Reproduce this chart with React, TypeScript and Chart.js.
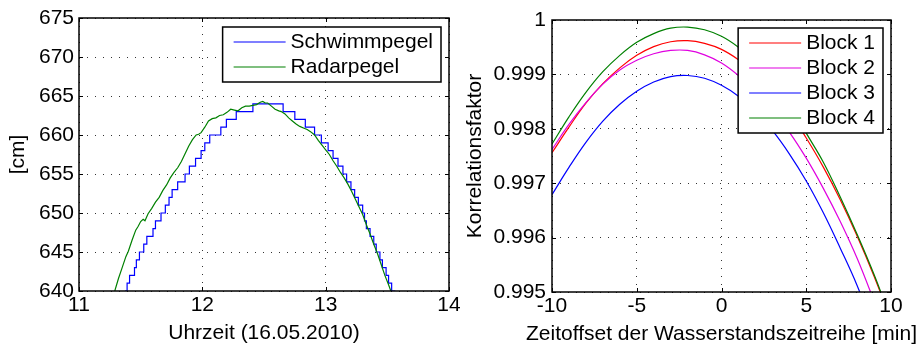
import React, { useEffect, useRef } from 'react';
import { Chart, registerables } from 'chart.js';

Chart.register(...registerables);

const FONT = '"Liberation Sans", Arial, Helvetica, sans-serif';

// ---------- left chart: water level ----------
const leftXTicks = [11, 12, 13, 14];
const leftYTicks = [640, 645, 650, 655, 660, 665, 670, 675];
const leftXTitle = 'Uhrzeit (16.05.2010)';
const leftYTitle = '[cm]';
const leftSeriesNames = ['Schwimmpegel', 'Radarpegel'];

const hoursBlue = [11.30, 11.378, 11.39, 11.41, 11.45, 11.465, 11.49, 11.525, 11.55, 11.60, 11.62, 11.665, 11.70, 11.73, 11.755, 11.80, 11.86, 11.895, 11.945, 11.99, 12.02, 12.06, 12.15, 12.195, 12.275, 12.41, 12.655, 12.75, 12.835, 12.91, 12.965, 13.02, 13.06, 13.10, 13.14, 13.17, 13.205, 13.235, 13.265, 13.30, 13.315, 13.33, 13.36, 13.39, 13.41, 13.44, 13.46, 13.49, 13.51, 13.535, 13.56];
const levelBlue = [638, 640, 641, 642, 643, 644, 645, 646, 647, 648, 649, 650, 651, 652, 653, 654, 655, 656, 657, 658, 659, 660, 661, 662, 663, 664, 663, 662, 661, 660, 659, 658, 657, 656, 655, 654, 653, 652, 651, 650, 649, 648, 647, 646, 645, 644, 643, 642, 641, 640, 639];

const hoursGreen = [11.27, 11.29, 11.32, 11.35, 11.38, 11.40, 11.43, 11.46, 11.48, 11.50, 11.52, 11.535, 11.56, 11.59, 11.62, 11.65, 11.68, 11.71, 11.74, 11.77, 11.80, 11.83, 11.86, 11.89, 11.92, 11.95, 11.97, 11.99, 12.02, 12.05, 12.08, 12.11, 12.14, 12.17, 12.20, 12.23, 12.26, 12.29, 12.32, 12.35, 12.38, 12.41, 12.44, 12.47, 12.49, 12.51, 12.53, 12.56, 12.59, 12.62, 12.64, 12.67, 12.70, 12.73, 12.76, 12.79, 12.82, 12.85, 12.88, 12.91, 12.94, 12.97, 13.00, 13.03, 13.06, 13.09, 13.12, 13.15, 13.18, 13.21, 13.24, 13.27, 13.30, 13.33, 13.36, 13.39, 13.42, 13.45, 13.48, 13.51, 13.54];
const levelGreen = [639.3, 640.0, 641.6, 643.0, 644.4, 645.1, 646.5, 647.8, 648.3, 648.9, 649.2, 649.0, 649.9, 650.6, 651.4, 652.0, 652.9, 653.6, 654.5, 655.2, 655.8, 656.6, 657.6, 658.6, 659.4, 660.0, 660.1, 660.3, 661.0, 661.8, 662.1, 662.2, 662.5, 662.6, 662.9, 663.3, 663.2, 663.1, 663.5, 663.7, 663.7, 663.8, 663.9, 664.2, 664.3, 664.1, 664.1, 663.7, 663.3, 663.1, 663.0, 662.7, 662.2, 661.8, 661.4, 661.1, 660.9, 660.7, 660.4, 660.0, 659.3, 658.7, 658.1, 657.5, 656.7, 656.0, 655.2, 654.5, 653.7, 652.8, 651.8, 650.8, 649.8, 648.5, 647.3, 646.0, 644.8, 643.4, 642.0, 640.8, 639.5];

// ---------- right chart: correlation ----------
const rightXTicks = [-10, -5, 0, 5, 10];
const rightYTicks = [0.995, 0.996, 0.997, 0.998, 0.999, 1];
const rightYTickLabels = ['0.995', '0.996', '0.997', '0.998', '0.999', '1'];
const rightXTitle = 'Zeitoffset der Wasserstandszeitreihe [min]';
const rightYTitle = 'Korrelationsfaktor';
const blockNames = ['Block 1', 'Block 2', 'Block 3', 'Block 4'];

const offsets = [-10, -9, -8, -7, -6, -5, -4, -3, -2, -1, 0, 1, 2, 3, 4, 5, 6, 7, 8, 9, 10];
const block1 = [0.99756, 0.99803, 0.99847, 0.99883, 0.99912, 0.99935, 0.99951, 0.99960, 0.99962, 0.99957, 0.99946, 0.99927, 0.99902, 0.99870, 0.99831, 0.99783, 0.99730, 0.99670, 0.99603, 0.99529, 0.99448];
const block2 = [0.99762, 0.99808, 0.99848, 0.99882, 0.99908, 0.99926, 0.99938, 0.99944, 0.99944, 0.99936, 0.99921, 0.99898, 0.99869, 0.99834, 0.99794, 0.99746, 0.99691, 0.99630, 0.99562, 0.99483, 0.99400];
const block3 = [0.99679, 0.99729, 0.99775, 0.99814, 0.99845, 0.99869, 0.99886, 0.99896, 0.99898, 0.99893, 0.99880, 0.99860, 0.99832, 0.99797, 0.99754, 0.99704, 0.99646, 0.99581, 0.99512, 0.99430, 0.99340];
const block4 = [0.99772, 0.99822, 0.99867, 0.99905, 0.99935, 0.99959, 0.99975, 0.99985, 0.99987, 0.99982, 0.99970, 0.99950, 0.99924, 0.99890, 0.99846, 0.99792, 0.99739, 0.99675, 0.99606, 0.99532, 0.99450];

const BLUE = '#0000ff';
const GREEN = '#008000';
const RED = '#ff0000';
const MAGENTA = '#e000e0';

const FS = 21;

const matlabPlugin = {
  id: 'matlabFrame',
  afterDatasetsDraw(chart: any, _args: any, opts: any) {
    const { ctx, chartArea: a, scales } = chart;
    ctx.save();
    ctx.strokeStyle = '#000';
    ctx.lineWidth = 1;
    const tl = 4;
    const line = (x1: number, y1: number, x2: number, y2: number) => {
      ctx.beginPath();
      ctx.moveTo(x1, y1);
      ctx.lineTo(x2, y2);
      ctx.stroke();
    };
    scales.x.ticks.forEach((t: any) => {
      const px = Math.round(scales.x.getPixelForValue(t.value)) + 0.5;
      line(px, a.bottom, px, a.bottom - tl);
      line(px, a.top, px, a.top + tl);
    });
    scales.y.ticks.forEach((t: any) => {
      const py = Math.round(scales.y.getPixelForValue(t.value)) + 0.5;
      line(a.left, py, a.left + tl, py);
      line(a.right, py, a.right - tl, py);
    });
    ctx.lineWidth = 1.5;
    ctx.strokeRect(a.left, a.top, a.right - a.left, a.bottom - a.top);

    ctx.font = `${FS}px ${FONT}`;
    // x-axis title (drawn here so that it is not squeezed to the axis width)
    ctx.fillStyle = '#000';
    ctx.textAlign = 'center';
    ctx.textBaseline = 'middle';
    ctx.fillText(opts.xTitle, (a.left + a.right) / 2, opts.xTitleY);

    // legend
    const ds = chart.data.datasets;
    let maxW = 0;
    ds.forEach((d: any) => { maxW = Math.max(maxW, ctx.measureText(d.label).width); });
    const w = 68 + maxW + 8;
    const h = 25 * ds.length + 5;
    const left = a.right - opts.right - w;
    const top = a.top + opts.top;
    ctx.fillStyle = '#fff';
    ctx.fillRect(left, top, w, h);
    ctx.lineWidth = 1.5;
    ctx.strokeStyle = '#000';
    ctx.strokeRect(left, top, w, h);
    ctx.textBaseline = 'middle';
    ctx.textAlign = 'left';
    ds.forEach((d: any, i: number) => {
      const y = top + 15 + 25 * i;
      ctx.strokeStyle = d.borderColor;
      ctx.lineWidth = 1.2;
      line(left + 11, y, left + 63, y);
      ctx.fillStyle = '#000';
      ctx.fillText(d.label, left + 68, y);
    });
    ctx.restore();
  },
};

function axisCommon(extra: any) {
  return {
    type: 'linear',
    grid: { color: '#333', lineWidth: 1, drawTicks: false },
    border: { display: false, dash: [1, 7] },
    ...extra,
  };
}

export default function App() {
  const leftRef = useRef<HTMLCanvasElement>(null);
  const rightRef = useRef<HTMLCanvasElement>(null);

  useEffect(() => {
    const font = { family: FONT, size: FS };
    const blueData = hoursBlue.map((x, i) => ({ x, y: levelBlue[i] }));
    const greenData = hoursGreen.map((x, i) => ({ x, y: levelGreen[i] }));
    const noPadX = (h: number) => (s: any) => { s.height = h; s.paddingLeft = 0; s.paddingRight = 0; };
    const noPadY = (w: number) => (s: any) => { s.width = w; s.paddingTop = 0; s.paddingBottom = 0; };

    const left = new Chart(leftRef.current as HTMLCanvasElement, {
      type: 'line',
      data: {
        datasets: [
          { label: leftSeriesNames[0], data: blueData, borderColor: BLUE, borderWidth: 1.2, pointRadius: 0, stepped: 'before', order: 2 },
          { label: leftSeriesNames[1], data: greenData, borderColor: GREEN, borderWidth: 1.2, pointRadius: 0, tension: 0, order: 1 },
        ],
      },
      options: {
        animation: false,
        responsive: false,
        devicePixelRatio: 1,
        layout: { padding: { left: 0, right: 11, top: 18, bottom: 0 } },
        plugins: { legend: { display: false }, tooltip: { enabled: false }, matlabFrame: { right: 8, top: 9, xTitle: leftXTitle, xTitleY: 333 } } as any,
        scales: {
          x: axisCommon({
            min: 11, max: 14,
            afterBuildTicks: (s: any) => { s.ticks = leftXTicks.map((v) => ({ value: v })); },
            afterFit: noPadX(54),
            ticks: { font, color: '#000', padding: 2, maxRotation: 0, autoSkip: false, callback: (v: any) => String(v) },
          }),
          y: axisCommon({
            min: 640, max: 675,
            afterBuildTicks: (s: any) => { s.ticks = leftYTicks.map((v) => ({ value: v })); },
            afterFit: noPadY(79),
            ticks: { font, color: '#000', padding: 5, autoSkip: false, callback: (v: any) => String(v) },
            title: { display: true, text: leftYTitle, font, color: '#000', padding: { top: 6, bottom: 0 } },
          }),
        },
      } as any,
      plugins: [matlabPlugin],
    });

    const colors = [RED, MAGENTA, BLUE, GREEN];
    const blocks = [block1, block2, block3, block4];
    const right = new Chart(rightRef.current as HTMLCanvasElement, {
      type: 'line',
      data: {
        datasets: blocks.map((b, k) => ({
          label: blockNames[k],
          data: offsets.map((x, i) => ({ x, y: b[i] })),
          borderColor: colors[k],
          borderWidth: 1.2,
          pointRadius: 0,
          tension: 0.4,
          order: 4 - k,
        })),
      },
      options: {
        animation: false,
        responsive: false,
        devicePixelRatio: 1,
        layout: { padding: { left: 0, right: 29, top: 20, bottom: 0 } },
        plugins: { legend: { display: false }, tooltip: { enabled: false }, matlabFrame: { right: 8, top: 8, xTitle: rightXTitle, xTitleY: 334 } } as any,
        scales: {
          x: axisCommon({
            min: -10, max: 10,
            afterBuildTicks: (s: any) => { s.ticks = rightXTicks.map((v) => ({ value: v })); },
            afterFit: noPadX(53),
            ticks: { font, color: '#000', padding: 2, maxRotation: 0, autoSkip: false, callback: (v: any) => String(v) },
          }),
          y: axisCommon({
            min: 0.995, max: 1,
            afterBuildTicks: (s: any) => { s.ticks = rightYTicks.map((v) => ({ value: v })); },
            afterFit: noPadY(92),
            ticks: {
              font, color: '#000', padding: 6, autoSkip: false,
              callback: (_v: any, i: number) => rightYTickLabels[i],
            },
            title: { display: true, text: rightYTitle, font, color: '#000', padding: { top: 3, bottom: 0 } },
          }),
        },
      } as any,
      plugins: [matlabPlugin],
    });

    return () => {
      left.destroy();
      right.destroy();
    };
  }, []);

  return (
    <div style={{ position: 'absolute', left: 0, top: 0, width: 920, height: 345, background: '#fff' }}>
      <canvas ref={leftRef} width={460} height={345} style={{ position: 'absolute', left: 0, top: 0, width: 460, height: 345 }} />
      <canvas ref={rightRef} width={460} height={345} style={{ position: 'absolute', left: 460, top: 0, width: 460, height: 345 }} />
    </div>
  );
}
